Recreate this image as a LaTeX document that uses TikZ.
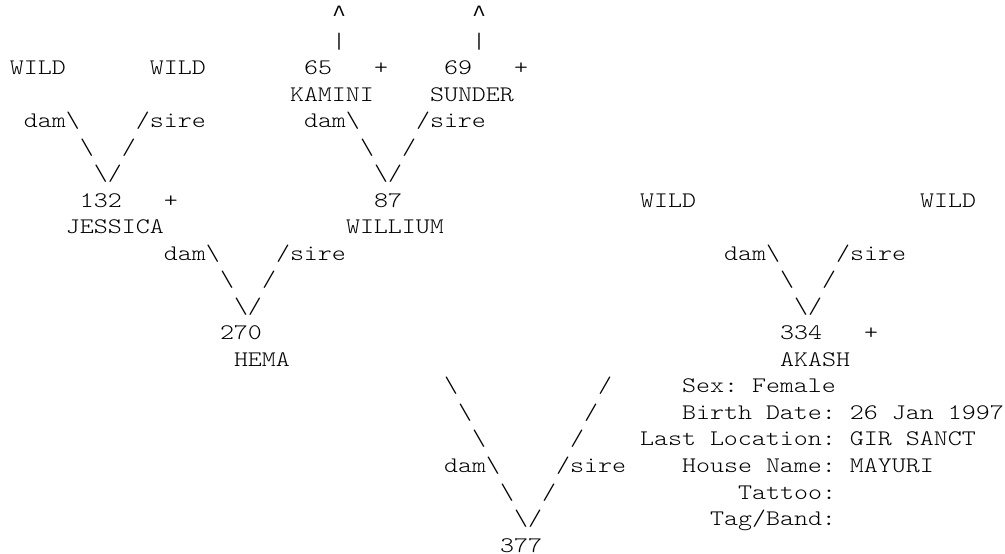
\documentclass[tikz,border=0pt]{standalone}
\usepackage{fontspec}
\usepackage{tikz}
\newfontfamily\pedfont{lmmonolt10-regular.otf}[FakeStretch=1.2]
\newfontfamily\caretfont{Liberation Mono}
\newcommand{\bs}{\textbackslash}
\newcommand{\upmark}{{\caretfont\fontsize{23.33pt}{26.5pt}\selectfont\textasciicircum}}
\tikzset{
  txt/.style ={anchor=base west, inner sep=0pt, outer sep=0pt, text=black,
               font=\pedfont\fontsize{22.22pt}{26.5pt}\selectfont\frenchspacing}
}

\begin{document}
\begin{tikzpicture}[x=14pt, y=-26.5pt]
% one unit is one character cell of the listing: (column, line)
\useasboundingbox (-0.714,-0.830) rectangle (71.071,20.075);

% ancestors of KAMINI and SUNDER go on further up
\node[txt] (kaminiUp)  at (23,0) {\upmark};
\node[txt] (sunderUp)  at (33,0) {\upmark};
\node[txt] (kaminiBar) at (23,1) {|};
\node[txt] (sunderBar) at (33,1) {|};

% generation of great-grandparents
\node[txt] (wildA)     at (0,2)  {WILD};
\node[txt] (wildB)     at (10,2) {WILD};
\node[txt] (kaminiId)  at (21,2) {65};
\node[txt] (kaminiPl)  at (26,2) {+};
\node[txt] (sunderId)  at (31,2) {69};
\node[txt] (sunderPl)  at (36,2) {+};
\node[txt] (kamini)    at (20,3) {KAMINI};
\node[txt] (sunder)    at (30,3) {SUNDER};

\node[txt] (jesDam)    at (1,4)  {dam\bs};
\node[txt] (jesSire)   at (9,4)  {/sire};
\node[txt] (wilDam)    at (21,4) {dam\bs};
\node[txt] (wilSire)   at (29,4) {/sire};
\node[txt] (jesDamB)   at (5,5)  {\bs};
\node[txt] (jesSireB)  at (8,5)  {/};
\node[txt] (wilDamB)   at (25,5) {\bs};
\node[txt] (wilSireB)  at (28,5) {/};
\node[txt] (jesV)      at (6,6)  {\bs/};
\node[txt] (wilV)      at (26,6) {\bs/};

% generation of grandparents
\node[txt] (jessicaId) at (5,7)  {132};
\node[txt] (jessicaPl) at (11,7) {+};
\node[txt] (willId)    at (26,7) {87};
\node[txt] (wildC)     at (45,7) {WILD};
\node[txt] (wildD)     at (65,7) {WILD};
\node[txt] (jessica)   at (4,8)  {JESSICA};
\node[txt] (willium)   at (24,8) {WILLIUM};

\node[txt] (hemDam)    at (11,9) {dam\bs};
\node[txt] (hemSire)   at (19,9) {/sire};
\node[txt] (akaDam)    at (51,9) {dam\bs};
\node[txt] (akaSire)   at (59,9) {/sire};
\node[txt] (hemDamB)   at (15,10) {\bs};
\node[txt] (hemSireB)  at (18,10) {/};
\node[txt] (akaDamB)   at (55,10) {\bs};
\node[txt] (akaSireB)  at (58,10) {/};
\node[txt] (hemV)      at (16,11) {\bs/};
\node[txt] (akaV)      at (56,11) {\bs/};

% generation of parents
\node[txt] (hemaId)    at (15,12) {270};
\node[txt] (akashId)   at (55,12) {334};
\node[txt] (akashPl)   at (61,12) {+};
\node[txt] (hema)      at (16,13) {HEMA};
\node[txt] (akash)     at (55,13) {AKASH};

% the long V down to the animal itself
\node[txt] (damA)      at (31,14) {\bs};
\node[txt] (sireA)     at (42,14) {/};
\node[txt] (damB)      at (32,15) {\bs};
\node[txt] (sireB)     at (41,15) {/};
\node[txt] (damC)      at (33,16) {\bs};
\node[txt] (sireC)     at (40,16) {/};
\node[txt] (mainDam)   at (31,17) {dam\bs};
\node[txt] (mainSire)  at (39,17) {/sire};
\node[txt] (damD)      at (35,18) {\bs};
\node[txt] (sireD)     at (38,18) {/};
\node[txt] (mainV)     at (36,19) {\bs/};
\node[txt] (mainId)    at (35,20) {377};

% record of the animal
\node[txt] (sex)       at (48,14) {Sex: Female};
\node[txt] (birth)     at (48,15) {Birth Date: 26 Jan 1997};
\node[txt] (location)  at (45,16) {Last Location: GIR SANCT};
\node[txt] (house)     at (48,17) {House Name: MAYURI};
\node[txt] (tattoo)    at (52,18) {Tattoo:};
\node[txt] (tag)       at (50,19) {Tag/Band:};
\end{tikzpicture}
\end{document}
